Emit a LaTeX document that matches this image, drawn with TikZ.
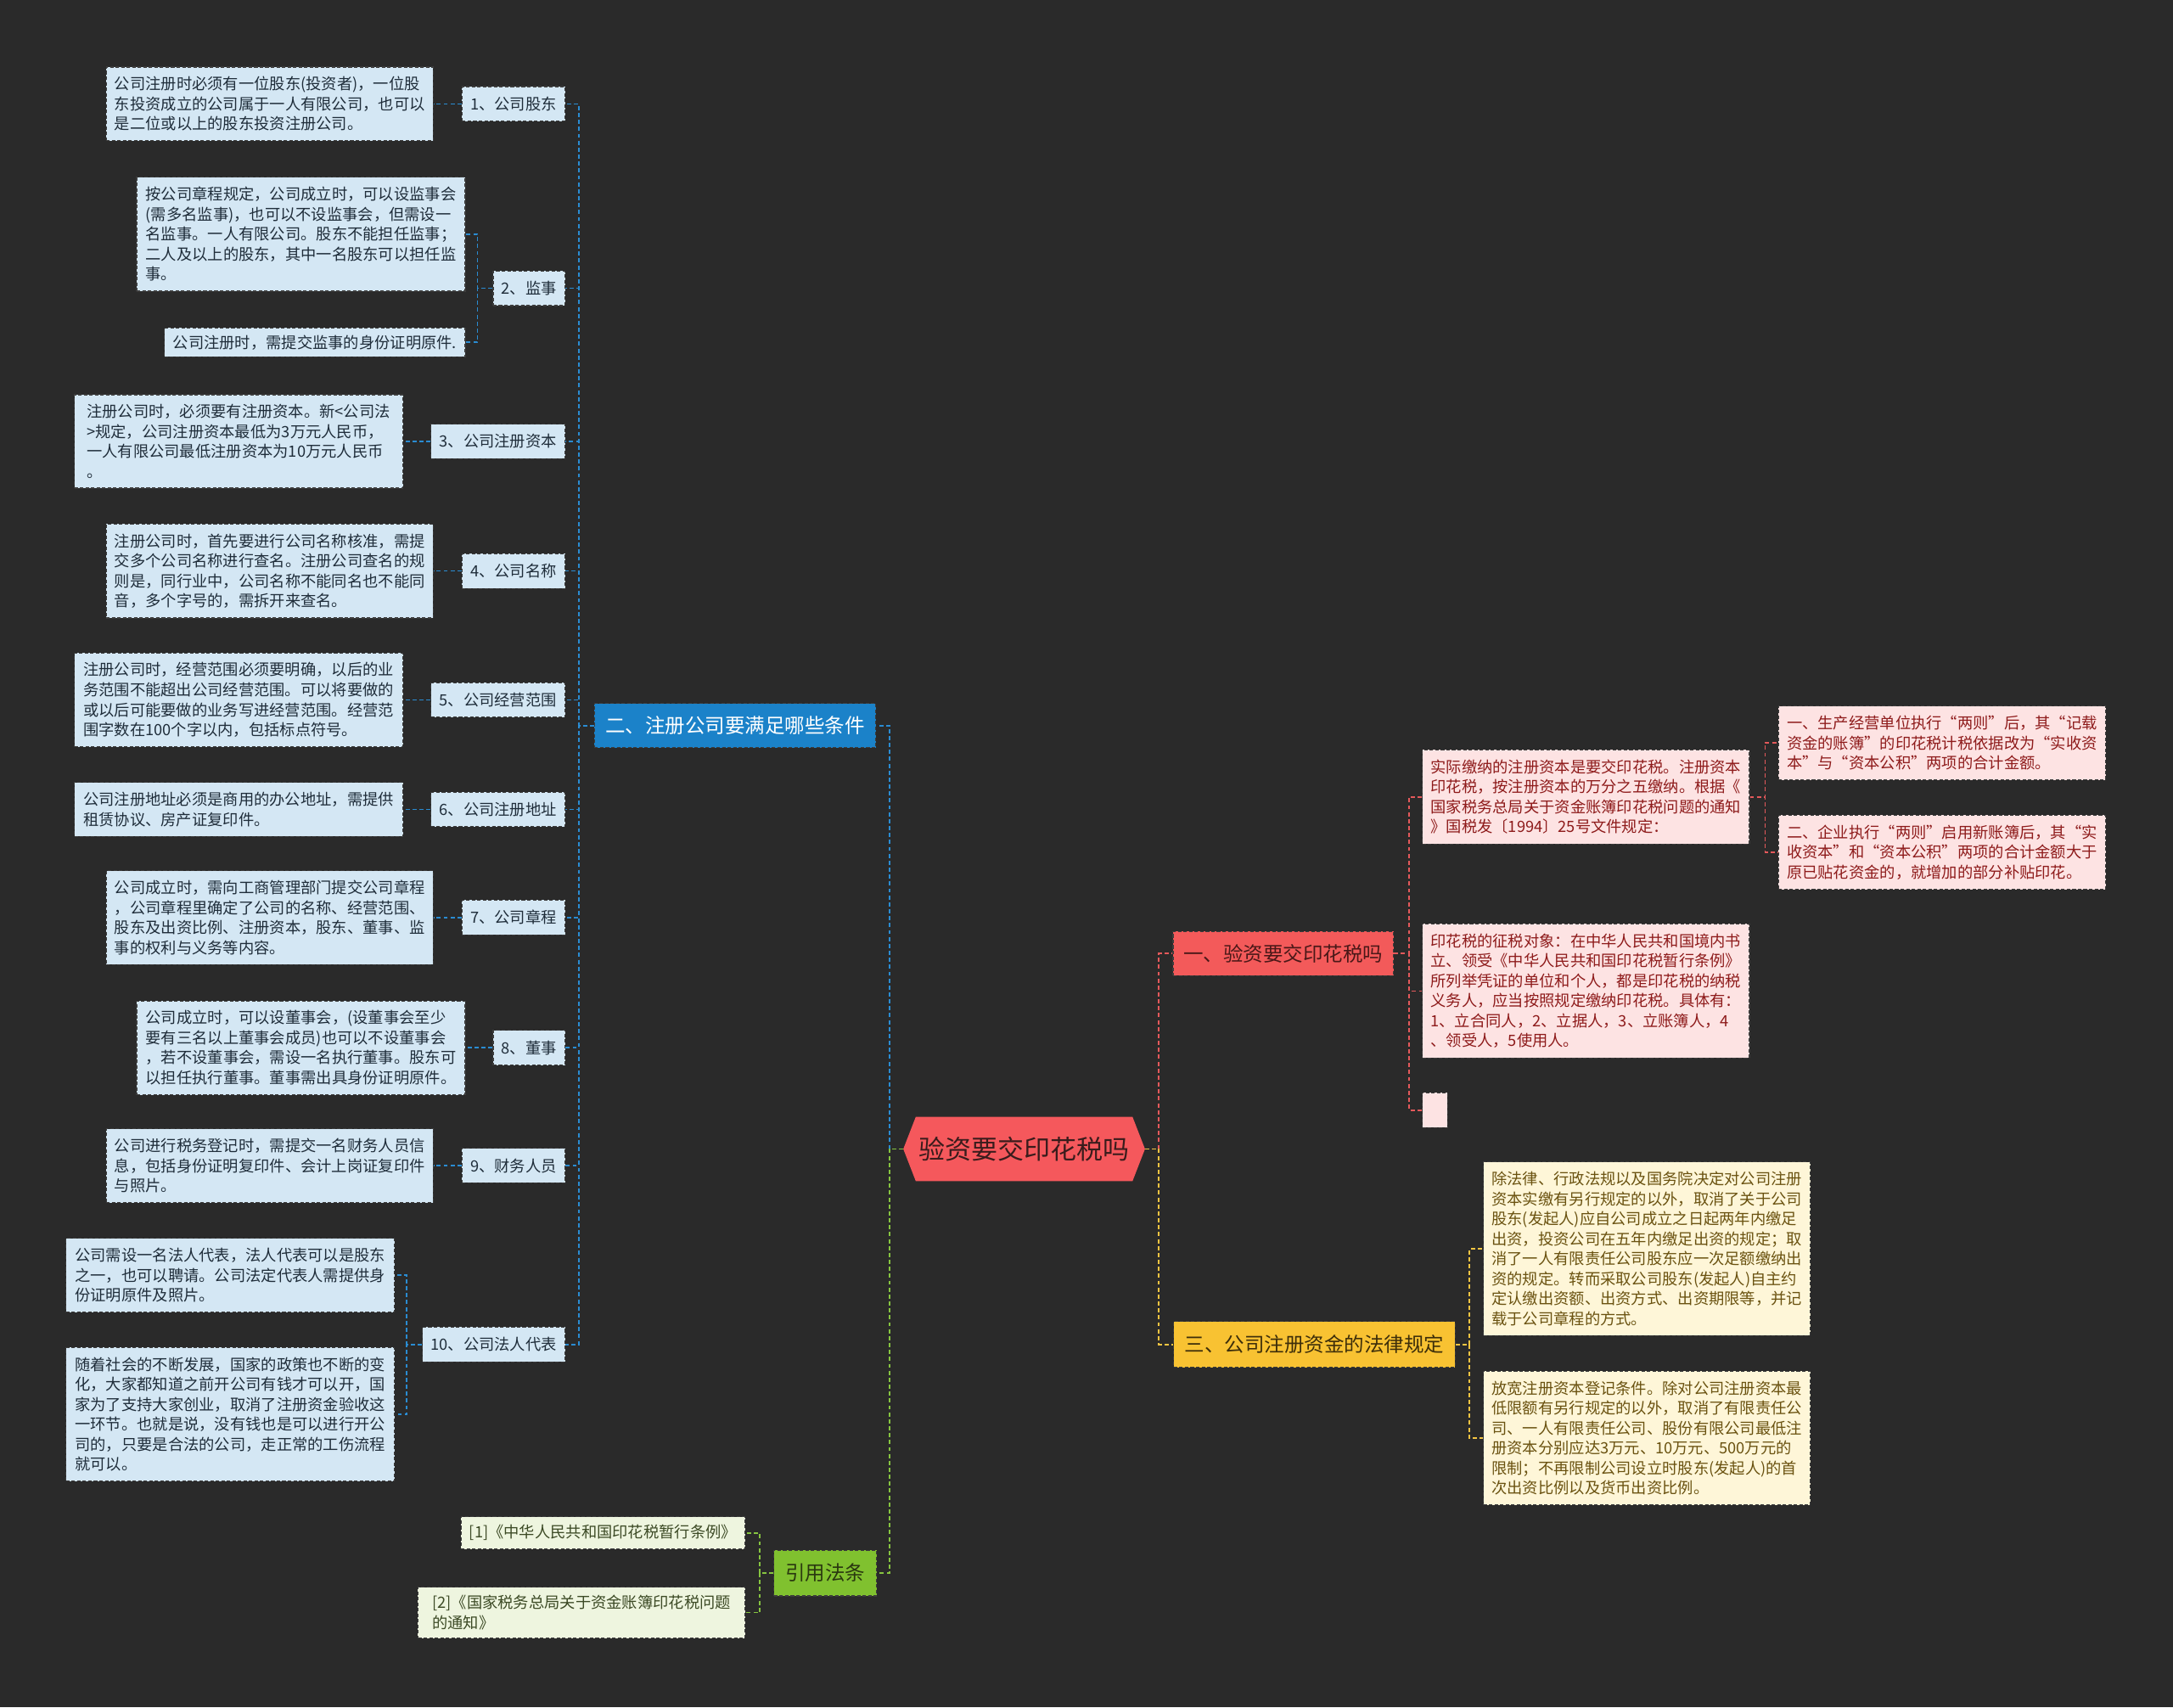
\documentclass[tikz,border=0pt]{standalone}
\usepackage{fontspec}
\setmainfont{Noto Sans CJK SC}
\usetikzlibrary{backgrounds}
\definecolor{bg}{HTML}{2A2A2A}
\definecolor{bd}{HTML}{3C3C3C}
% blue
\definecolor{fB}{HTML}{D4E7F4}
\definecolor{tB}{HTML}{1F2D3A}
\definecolor{cB}{HTML}{2A8CD2}
\definecolor{mB}{HTML}{1B82C9}
% red
\definecolor{fR}{HTML}{FDE3E3}
\definecolor{tR}{HTML}{8E1B1B}
\definecolor{cR}{HTML}{E4595B}
\definecolor{mR}{HTML}{F35A5A}
\definecolor{tRm}{HTML}{4A1818}
% yellow
\definecolor{fY}{HTML}{FEF6D8}
\definecolor{tY}{HTML}{6A5210}
\definecolor{cY}{HTML}{F5C542}
\definecolor{mY}{HTML}{F8C232}
\definecolor{tYm}{HTML}{3D2E0A}
% green
\definecolor{fG}{HTML}{EEF5DF}
\definecolor{tG}{HTML}{3C4A25}
\definecolor{cG}{HTML}{86C440}
\definecolor{mG}{HTML}{80C12F}
\definecolor{tGm}{HTML}{2A3810}
\definecolor{rootc}{HTML}{F5585C}
\definecolor{roott}{HTML}{3A1C1C}
\tikzset{
  boxbase/.style={draw=bd, dash pattern=on 2.5pt off 1.5pt, line width=0.7pt,
    inner xsep=6pt, inner ysep=7pt, align=left,
    font=\fontsize{11.2pt}{14.4pt}\selectfont},
  leafB/.style={boxbase, fill=fB, text=tB},
  leafR/.style={boxbase, fill=fR, text=tR, anchor=west, minimum width=236pt},
  leafY/.style={boxbase, fill=fY, text=tY, anchor=west, minimum width=236pt},
  leafG/.style={boxbase, fill=fG, text=tG, anchor=east},
  midB/.style={boxbase, fill=fB, text=tB, minimum height=25pt, anchor=east},
  branch/.style={draw=bd, dash pattern=on 2.5pt off 1.5pt, line width=0.7pt,
    inner sep=0pt, minimum height=32pt, font=\fontsize{14.4pt}{16pt}\selectfont},
  conbase/.style={line width=1pt, dash pattern=on 3pt off 2pt},
  conB/.style={conbase, draw=cB},
  conR/.style={conbase, draw=cR},
  conY/.style={conbase, draw=cY},
  conG/.style={conbase, draw=cG},
}
\begin{document}
\begin{tikzpicture}[x=1pt,y=-1pt]
\useasboundingbox (0,0) rectangle (1568,1232);

% root
\node (root) [minimum width=174pt, minimum height=46pt, inner sep=0pt, text=roott,
  font=\fontsize{19pt}{22pt}\selectfont] at (739,829) {验资要交印花税吗};

% main branches
\node (b2) [branch, fill=mB, text=white, minimum width=203pt] at (530.5,523.5) {二、注册公司要满足哪些条件};
\node (b1) [branch, fill=mR, text=tRm, minimum width=159pt] at (926,688) {一、验资要交印花税吗};
\node (b3) [branch, fill=mY, text=tYm, minimum width=203pt, minimum height=33pt] at (948.5,970) {三、公司注册资金的法律规定};
\node (b4) [branch, fill=mG, text=tGm, minimum width=74pt, minimum height=33pt] at (595.5,1135) {引用法条};

% level 2 (left)
\node (n1) [midB] at (408,75) {1、公司股东};
\node (n2) [midB] at (408,208) {2、监事};
\node (n3) [midB] at (408,318.5) {3、公司注册资本};
\node (n4) [midB] at (408,412) {4、公司名称};
\node (n5) [midB] at (408,505) {5、公司经营范围};
\node (n6) [midB] at (408,584) {6、公司注册地址};
\node (n7) [midB] at (408,662) {7、公司章程};
\node (n8) [midB] at (408,756) {8、董事};
\node (n9) [midB] at (408,841) {9、财务人员};
\node (n10) [midB] at (408,970) {10、公司法人代表};

% leaves (left)
\node (l1) [leafB, anchor=east, minimum width=236pt] at (313,75) {公司注册时必须有一位股东(投资者)，一位股\\东投资成立的公司属于一人有限公司，也可以\\是二位或以上的股东投资注册公司。};
\node (l2a) [leafB, anchor=east, minimum width=237pt] at (336,169) {按公司章程规定，公司成立时，可以设监事会\\(需多名监事)，也可以不设监事会，但需设一\\名监事。一人有限公司。股东不能担任监事；\\二人及以上的股东，其中一名股东可以担任监\\事。};
\node (l2b) [leafB, anchor=east, minimum width=217pt, inner ysep=5pt] at (336,247) {公司注册时，需提交监事的身份证明原件.};
\node (l3) [leafB, anchor=east, minimum width=237pt] at (291,318.5) {注册公司时，必须要有注册资本。新<公司法\\>规定，公司注册资本最低为3万元人民币，\\一人有限公司最低注册资本为10万元人民币\\。};
\node (l4) [leafB, anchor=east, minimum width=236pt] at (313,412) {注册公司时，首先要进行公司名称核准，需提\\交多个公司名称进行查名。注册公司查名的规\\则是，同行业中，公司名称不能同名也不能同\\音，多个字号的，需拆开来查名。};
\node (l5) [leafB, anchor=east, minimum width=237pt] at (291,505) {注册公司时，经营范围必须要明确，以后的业\\务范围不能超出公司经营范围。可以将要做的\\或以后可能要做的业务写进经营范围。经营范\\围字数在100个字以内，包括标点符号。};
\node (l6) [leafB, anchor=east, minimum width=237pt] at (291,584) {公司注册地址必须是商用的办公地址，需提供\\租赁协议、房产证复印件。};
\node (l7) [leafB, anchor=east, minimum width=236pt] at (313,662) {公司成立时，需向工商管理部门提交公司章程\\，公司章程里确定了公司的名称、经营范围、\\股东及出资比例、注册资本，股东、董事、监\\事的权利与义务等内容。};
\node (l8) [leafB, anchor=east, minimum width=237pt] at (336,756) {公司成立时，可以设董事会，(设董事会至少\\要有三名以上董事会成员)也可以不设董事会\\，若不设董事会，需设一名执行董事。股东可\\以担任执行董事。董事需出具身份证明原件。};
\node (l9) [leafB, anchor=east, minimum width=236pt] at (313,841) {公司进行税务登记时，需提交一名财务人员信\\息，包括身份证明复印件、会计上岗证复印件\\与照片。};
\node (l10a) [leafB, anchor=east, minimum width=237pt] at (285,920) {公司需设一名法人代表，法人代表可以是股东\\之一，也可以聘请。公司法定代表人需提供身\\份证明原件及照片。};
\node (l10b) [leafB, anchor=east, minimum width=237pt] at (285,1020.5) {随着社会的不断发展，国家的政策也不断的变\\化，大家都知道之前开公司有钱才可以开，国\\家为了支持大家创业，取消了注册资金验收这\\一环节。也就是说，没有钱也是可以进行开公\\司的，只要是合法的公司，走正常的工伤流程\\就可以。};

% references
\node (r1) [leafG, minimum width=205pt, inner ysep=6pt] at (538,1106) {[1]《中华人民共和国印花税暂行条例》};
\node (r2) [leafG, minimum width=236pt, inner ysep=6pt] at (538,1163.5) {[2]《国家税务总局关于资金账簿印花税问题\\的通知》};

% right red
\node (p1) [leafR] at (1026,575) {实际缴纳的注册资本是要交印花税。注册资本\\印花税，按注册资本的万分之五缴纳。根据《\\国家税务总局关于资金账簿印花税问题的通知\\》国税发〔1994〕25号文件规定：};
\node (p2) [leafR] at (1026,715) {印花税的征税对象：在中华人民共和国境内书\\立、领受《中华人民共和国印花税暂行条例》\\所列举凭证的单位和个人，都是印花税的纳税\\义务人，应当按照规定缴纳印花税。具体有：\\1、立合同人，2、立据人，3、立账簿人，4\\、领受人，5使用人。};
\node (p3) [boxbase, fill=fR, anchor=west, minimum width=18pt, minimum height=25pt, inner sep=0pt] at (1026,801) {};
\node (q1) [leafR] at (1283,536) {一、生产经营单位执行“两则”后，其“记载\\资金的账簿”的印花税计税依据改为“实收资\\本”与“资本公积”两项的合计金额。};
\node (q2) [leafR] at (1283,615) {二、企业执行“两则”启用新账簿后，其“实\\收资本”和“资本公积”两项的合计金额大于\\原已贴花资金的，就增加的部分补贴印花。};

% right yellow
\node (y1) [leafY] at (1070,901) {除法律、行政法规以及国务院决定对公司注册\\资本实缴有另行规定的以外，取消了关于公司\\股东(发起人)应自公司成立之日起两年内缴足\\出资，投资公司在五年内缴足出资的规定；取\\消了一人有限责任公司股东应一次足额缴纳出\\资的规定。转而采取公司股东(发起人)自主约\\定认缴出资额、出资方式、出资期限等，并记\\载于公司章程的方式。};
\node (y2) [leafY] at (1070,1037.5) {放宽注册资本登记条件。除对公司注册资本最\\低限额有另行规定的以外，取消了有限责任公\\司、一人有限责任公司、股份有限公司最低注\\册资本分别应达3万元、10万元、500万元的\\限制；不再限制公司设立时股东(发起人)的首\\次出资比例以及货币出资比例。};

% background + root shape
\begin{scope}[on background layer]
  \fill[bg] (0,0) rectangle (1568,1232);
  \fill[rootc] (root.west) -- ([xshift=9pt]root.north west) -- ([xshift=-9pt]root.north east)
    -- (root.east) -- ([xshift=-9pt]root.south east) -- ([xshift=9pt]root.south west) -- cycle;
\end{scope}

% connectors root -> branches
\draw[conB] (root.west) -- ++(-10,0) |- (b2.east);
\draw[conG] (root.west) -- ++(-10,0) |- (b4.east);
\draw[conR] (root.east) -- ++(10,0) |- (b1.west);
\draw[conY] (root.east) -- ++(10,0) |- (b3.west);

% blue branch
\foreach \k in {n1,n2,n3,n4,n5,n6,n7,n8,n9,n10}
  \draw[conB] (b2.west) -- ++(-11,0) |- (\k.east);
\draw[conB] (n1.west) -- (l1.east);
\draw[conB] (n2.west) -- ++(-11,0) |- (l2a.east);
\draw[conB] (n2.west) -- ++(-11,0) |- (l2b.east);
\draw[conB] (n3.west) -- (l3.east);
\draw[conB] (n4.west) -- (l4.east);
\draw[conB] (n5.west) -- (l5.east);
\draw[conB] (n6.west) -- (l6.east);
\draw[conB] (n7.west) -- (l7.east);
\draw[conB] (n8.west) -- (l8.east);
\draw[conB] (n9.west) -- (l9.east);
\draw[conB] (n10.west) -- ++(-11,0) |- (l10a.east);
\draw[conB] (n10.west) -- ++(-11,0) |- (l10b.east);

% green branch
\draw[conG] (b4.west) -- ++(-10,0) |- (r1.east);
\draw[conG] (b4.west) -- ++(-10,0) |- (r2.east);

% red branch
\draw[conR] (b1.east) -- ++(11,0) |- (p1.west);
\draw[conR] (b1.east) -- ++(11,0) |- (p2.west);
\draw[conR] (b1.east) -- ++(11,0) |- (p3.west);
\draw[conR] (p1.east) -- ++(11,0) |- (q1.west);
\draw[conR] (p1.east) -- ++(11,0) |- (q2.west);

% yellow branch
\draw[conY] (b3.east) -- ++(10,0) |- (y1.west);
\draw[conY] (b3.east) -- ++(10,0) |- (y2.west);
\end{tikzpicture}
\end{document}
